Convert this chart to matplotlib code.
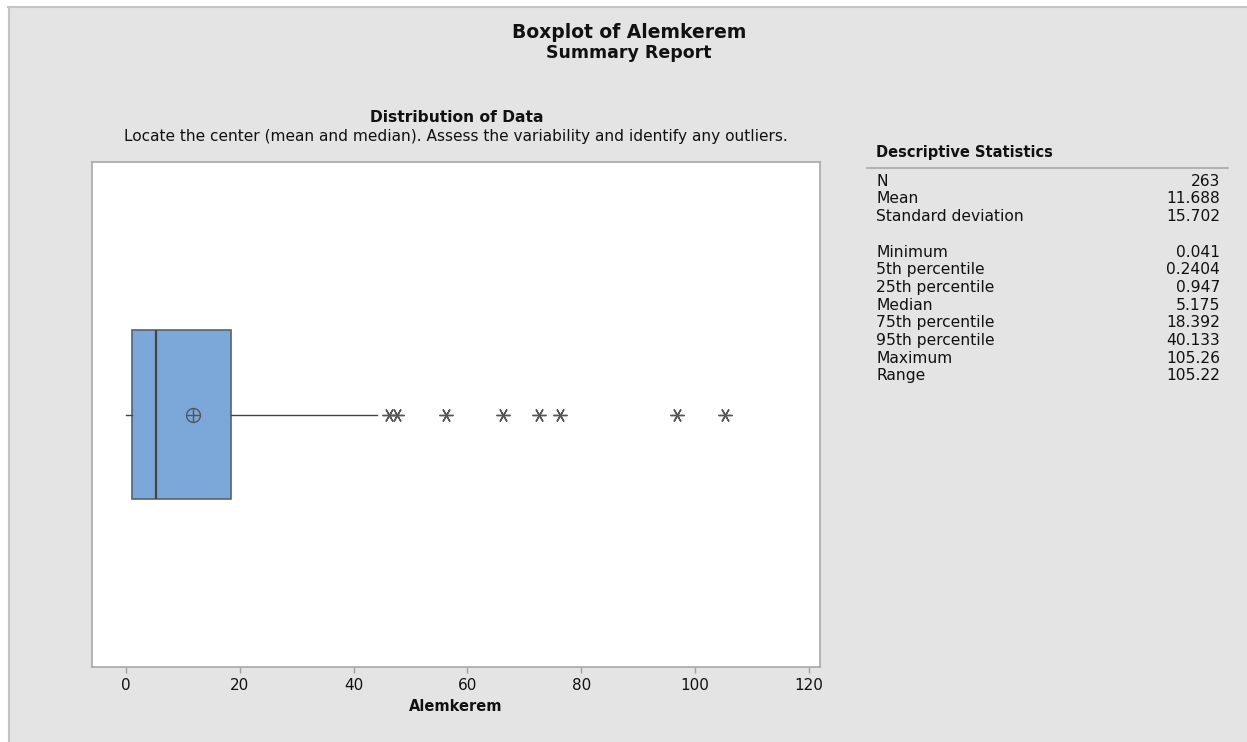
import matplotlib
matplotlib.use("Agg")
import matplotlib.pyplot as plt
from matplotlib.patches import Rectangle
from matplotlib.lines import Line2D

plt.rcParams['font.family'] = ['DejaVu Sans']

# Summary statistics of Alemkerem
q1 = 0.947
median = 5.175
q3 = 18.392
mean = 11.688
whisker_low = 0.041
whisker_high = 44.1
outliers = [46.2, 47.7, 56.2, 66.2, 72.6, 76.3, 96.8, 105.26]

x_ticks = [0, 20, 40, 60, 80, 100, 120]

stat_labels = ["N", "Mean", "Standard deviation", "",
               "Minimum", "5th percentile", "25th percentile", "Median",
               "75th percentile", "95th percentile", "Maximum", "Range"]
stat_values = ["263", "11.688", "15.702", "",
               "0.041", "0.2404", "0.947", "5.175",
               "18.392", "40.133", "105.26", "105.22"]

W, H = 1247, 742
fig = plt.figure(figsize=(W / 100, H / 100), dpi=100, facecolor='white')

def fx(px):
    return px / W

def fy(py):
    return 1 - py / H

# grey report background with thin frame
fig.patches.append(Rectangle((fx(8), 0), 1 - fx(8), fy(7), transform=fig.transFigure,
                             facecolor='#e4e4e4', edgecolor='none', zorder=-10))
fig.lines.append(Line2D([fx(8.5), fx(8.5)], [0, fy(7)], transform=fig.transFigure,
                        color='#c4c4c4', lw=1.5, zorder=-9))
fig.lines.append(Line2D([fx(8), 1], [fy(7), fy(7)], transform=fig.transFigure,
                        color='#c4c4c4', lw=1.5, zorder=-9))

fig.text(fx(629), fy(33), "Boxplot of Alemkerem", ha='center', va='center',
         fontsize=13.5, fontweight='bold', color='#111111')
fig.text(fx(629), fy(53), "Summary Report", ha='center', va='center',
         fontsize=12.5, fontweight='bold', color='#111111')

fig.text(fx(457), fy(118), "Distribution of Data", ha='center', va='center',
         fontsize=11.2, fontweight='bold', color='#111111')
fig.text(fx(456), fy(136),
         "Locate the center (mean and median). Assess the variability and identify any outliers.",
         ha='center', va='center', fontsize=11.1, color='#111111')

ax = fig.add_axes([fx(92), fy(667), fx(820) - fx(92), fy(162) - fy(667)])
ax.set_facecolor('white')

stats = [{
    'q1': q1, 'med': median, 'q3': q3, 'mean': mean,
    'whislo': whisker_low, 'whishi': whisker_high, 'fliers': outliers,
}]
ax.bxp(stats, positions=[0], widths=1.0, orientation='horizontal',
       patch_artist=True, showcaps=False, showmeans=True,
       boxprops=dict(facecolor='#7ba7d9', edgecolor='#5a6270', linewidth=1.2),
       medianprops=dict(color='#444444', linewidth=1.6),
       whiskerprops=dict(color='#444444', linewidth=1.0),
       meanprops=dict(marker='o', markersize=10, markerfacecolor='none',
                      markeredgecolor='#555555', markeredgewidth=1.0),
       flierprops=dict(marker=(6, 2, 90), markersize=10, markeredgecolor='#555555',
                       markeredgewidth=1.0, linestyle='none'))
ax.plot([mean], [0], marker='+', markersize=10, color='#555555', mew=1.0)

ax.set_xlim(-6, 122)
ax.set_ylim(-1.5, 1.5)
ax.set_xticks(x_ticks)
ax.set_yticks([])
ax.tick_params(axis='x', length=4, width=1, color='#a0a0a0', labelsize=11,
               labelcolor='#111111', pad=4)
for s in ax.spines.values():
    s.set_color('#a8a8a8')
    s.set_linewidth(1.2)
ax.set_xlabel("Alemkerem", fontsize=10.5, fontweight='bold', color='#111111', labelpad=4)

# descriptive statistics table
fig.text(fx(876), fy(153), "Descriptive Statistics", ha='left', va='center',
         fontsize=10.5, fontweight='bold', color='#111111')
fig.lines.append(Line2D([fx(867), fx(1228)], [fy(168), fy(168)], transform=fig.transFigure,
                        color='#a8a8a8', lw=1.2))
y = 181
for lab, val in zip(stat_labels, stat_values):
    if lab:
        fig.text(fx(876), fy(y), lab, ha='left', va='center', fontsize=11.2, color='#111111')
        fig.text(fx(1220), fy(y), val, ha='right', va='center', fontsize=11.2, color='#111111')
    y += 17.7 if lab else 18

fig.savefig("out.png", dpi=100, facecolor=fig.get_facecolor())
